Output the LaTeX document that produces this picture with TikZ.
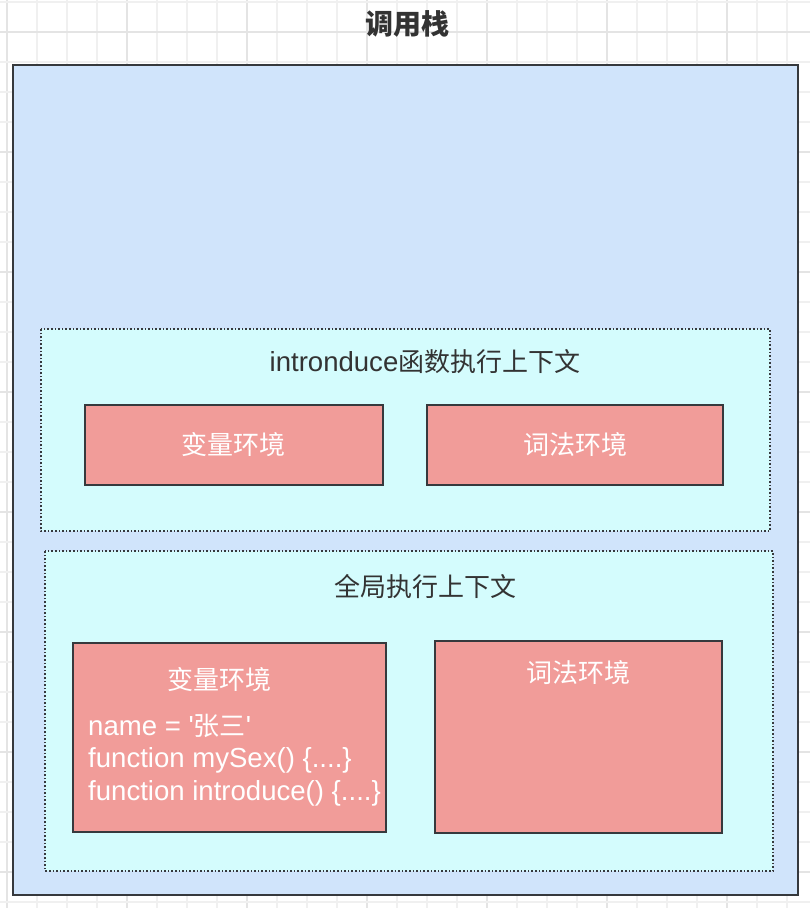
\documentclass[tikz,border=0pt]{standalone}
\usepackage{fontspec}
\setmainfont{Liberation Sans}[Scale=1.06, Ligatures=TeXOff]
\newfontfamily\cjk{Noto Sans CJK SC}
\definecolor{gridl}{HTML}{F0F0F0}
\definecolor{gridd}{HTML}{E4E4E4}
\definecolor{stackfill}{HTML}{D0E4FB}
\definecolor{ctxfill}{HTML}{D4FCFD}
\definecolor{envfill}{HTML}{F19C99}
\definecolor{edge}{HTML}{36393D}
\definecolor{txt}{HTML}{333333}
\tikzset{
  stackbox/.style={draw=edge, fill=stackfill, line width=2bp},
  ctxbox/.style={draw=edge, fill=ctxfill, line width=1.6bp, dash pattern=on 1.6bp off 2bp},
  envbox/.style={draw=edge, fill=envfill, line width=1.6bp},
  lbl/.style={inner sep=0pt, text=txt, font=\fontsize{26bp}{30bp}\selectfont},
  wlbl/.style={inner sep=0pt, text=white, font=\fontsize{26bp}{32.5bp}\selectfont},
}
\begin{document}
\begin{tikzpicture}[x=1bp,y=-1bp]
\useasboundingbox (0,0) rectangle (810,908);
\fill[white] (0,0) rectangle (810,908);
% grid
\foreach \k in {0,...,26} {
  \pgfmathtruncatemacro{\m}{mod(\k,4)}
  \ifnum\m=0 \def\gc{gridd}\else\def\gc{gridl}\fi
  \draw[\gc, line width=1.2bp] ({7+30*\k},0) -- ({7+30*\k},908);
}
\foreach \k in {0,...,30} {
  \pgfmathtruncatemacro{\m}{mod(\k,4)}
  \ifnum\m=1 \def\gc{gridd}\else\def\gc{gridl}\fi
  \draw[\gc, line width=1.2bp] (0,{2+30*\k}) -- (810,{2+30*\k});
}
% title
\node[lbl, font=\fontsize{28bp}{32bp}\selectfont\bfseries] (title) at (407.5,24) {\cjk\bfseries 调用栈};
% call stack
\draw[stackbox] (13,65) rectangle (797.5,895);
\node (stack) at (405,480) {};
% function context
\draw[ctxbox] (41,329) rectangle (770,531);
\node[lbl] (fctx) at (425,362) {intronduce{\cjk 函数执行上下文}};
\draw[envbox] (85,405) rectangle (383,485);
\node[wlbl] (fvar) at (233,445) {\cjk 变量环境};
\draw[envbox] (427,405) rectangle (723,485);
\node[wlbl] (flex) at (575,445) {\cjk 词法环境};
% global context
\draw[ctxbox] (45,551) rectangle (773,871);
\node[lbl] (gctx) at (425,587) {\cjk 全局执行上下文};
\draw[envbox] (73,643) rectangle (386,832);
\node[wlbl] (gvar) at (219,680) {\cjk 变量环境};
\node[wlbl, anchor=west, align=left] (gcode) at (88,760) {name = '{\cjk 张三}'\\function mySex() \{....\}\\function introduce() \{....\}};
\draw[envbox] (435,641) rectangle (722,833);
\node[wlbl] (glex) at (578,673) {\cjk 词法环境};
\end{tikzpicture}
\end{document}
